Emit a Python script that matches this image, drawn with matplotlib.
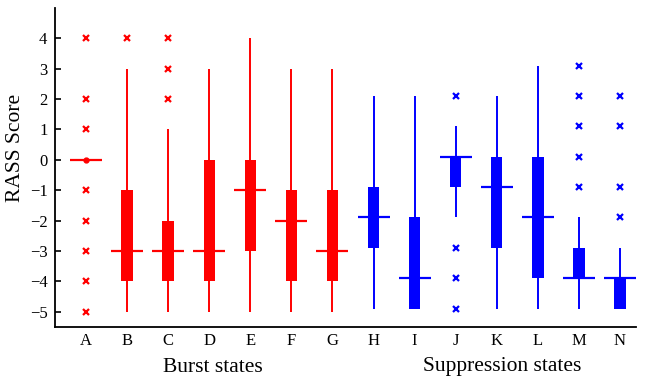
import matplotlib.pyplot as plt
import numpy as np

states = ['A', 'B', 'C', 'D', 'E', 'F', 'G', 'H', 'I', 'J', 'K', 'L', 'M', 'N']
colours = ['red'] * 7 + ['blue'] * 7

# box statistics per state
whis_lo = [0, -5, -5, -5, -5, -5, -5, -4.9, -4.9, -1.9, -4.9, -4.9, -4.9, -4.9]
q1 = [0, -4, -4, -4, -3, -4, -4, -2.9, -4.9, -0.9, -2.9, -3.9, -3.9, -4.9]
medians = [0, -3, -3, -3, -1, -2, -3, -1.9, -3.9, 0.1, -0.9, -1.9, -3.9, -3.9]
q3 = [0, -1, -2, 0, 0, -1, -1, -0.9, -1.9, 0.1, 0.1, 0.1, -2.9, -3.9]
whis_hi = [0, 3, 1, 3, 4, 3, 3, 2.1, 2.1, 1.1, 2.1, 3.1, -1.9, -2.9]
outliers = [
    [4, 2, 1, -1, -2, -3, -4, -5],
    [4],
    [4, 3, 2],
    [], [], [], [], [], [],
    [2.1, -2.9, -3.9, -4.9],
    [], [],
    [3.1, 2.1, 1.1, 0.1, -0.9],
    [2.1, 1.1, -0.9, -1.9],
]

plt.rcParams['font.family'] = ['Liberation Serif', 'DejaVu Serif']
plt.rcParams['axes.unicode_minus'] = True

fig = plt.figure(figsize=(6.45, 3.85), dpi=100)
ax = fig.add_axes([0.0853, 0.1514, 0.9007, 0.8276])

pos = np.arange(1, len(states) + 1)

for i in range(len(states)):
    c = colours[i]
    x = pos[i]
    ax.vlines(x, whis_lo[i], whis_hi[i], color=c, linewidth=1.4, zorder=2)
    ax.bar(x, q3[i] - q1[i], bottom=q1[i], width=0.28, color=c, linewidth=0, zorder=3)
    ax.hlines(medians[i], x - 0.39, x + 0.39, color=c, linewidth=1.6, zorder=4)
    if whis_lo[i] == whis_hi[i]:
        ax.plot(x, medians[i], 'o', color=c, markersize=3.5, zorder=5)
    if outliers[i]:
        ax.plot([x] * len(outliers[i]), outliers[i], 'x', color=c,
                markersize=4.5, markeredgewidth=1.6, linestyle='none', zorder=5)

ax.set_xlim(0.244, 14.39)
ax.set_ylim(-5.5, 5)
ax.set_xticks(pos)
ax.set_xticklabels(states, fontsize=12)
ax.set_yticks(np.arange(-5, 5))
ax.tick_params(axis='y', direction='in', length=4, width=1.2, labelsize=12, pad=5.5)
ax.tick_params(axis='x', length=0, pad=4.5)
ax.spines['top'].set_visible(False)
ax.spines['right'].set_visible(False)
ax.spines['left'].set_linewidth(1.3)
ax.spines['bottom'].set_linewidth(1.3)
ax.set_ylabel('RASS Score', fontsize=15.5)
ax.yaxis.set_label_coords(-0.052, 0.561)

fig.text(213 / 645, 1 - 367 / 385, 'Burst states', fontsize=15.5, ha='center', va='center')
fig.text(502 / 645, 1 - 367 / 385, 'Suppression states', fontsize=15.5, ha='center', va='center')

plt.savefig('out.png', dpi=100)
